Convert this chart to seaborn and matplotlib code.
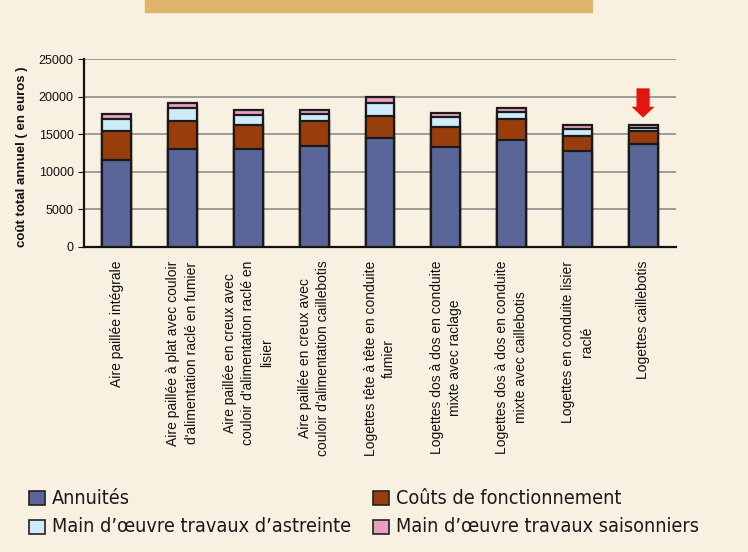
import numpy as np
import pandas as pd
import matplotlib
matplotlib.use("Agg")
import matplotlib.pyplot as plt
import seaborn as sns

categories = [
    "Aire paillée intégrale",
    "Aire paillée à plat avec couloir\nd'alimentation raclé en fumier",
    "Aire paillée en creux avec\ncouloir d'alimentation raclé en\nlisier",
    "Aire paillée en creux avec\ncouloir d'alimentation caillebotis",
    "Logettes tête à tête en conduite\nfumier",
    "Logettes dos à dos en conduite\nmixte avec raclage",
    "Logettes dos à dos en conduite\nmixte avec caillebotis",
    "Logettes en conduite lisier\nraclé",
    "Logettes caillebotis",
]
annuites = [11550, 13000, 13000, 13450, 14500, 13300, 14200, 12800, 13750]
couts_fonct = [3900, 3800, 3250, 3350, 2950, 2650, 2750, 1900, 1650]
astreinte = [1500, 1700, 1250, 900, 1750, 1350, 1050, 1000, 450]
saisonniers = [700, 700, 700, 500, 750, 550, 500, 550, 400]

series_names = ["Annuités", "Coûts de fonctionnement",
                "Main d\u2019\u0153uvre travaux d\u2019astreinte",
                "Main d\u2019\u0153uvre travaux saisonniers"]
colors = ["#5A6699", "#983E0C", "#CDEBF9", "#E9A0C0"]
bg = "#F8F0E1"

df = pd.DataFrame({"cat": categories, "a": annuites, "b": couts_fonct,
                   "c": astreinte, "d": saisonniers})
cum = df[["a", "b", "c", "d"]].cumsum(axis=1)
cum["cat"] = df["cat"]

sns.set_style("white")
plt.rcParams["font.family"] = ["Liberation Sans", "DejaVu Sans"]

fig = plt.figure(figsize=(7.48, 5.52), dpi=100, facecolor=bg)
ax = fig.add_axes([0.1123, 0.553, 0.7914, 0.340])
ax.set_facecolor(bg)

# draw cumulative layers, tallest first
for col, color in reversed(list(zip(["a", "b", "c", "d"], colors))):
    sns.barplot(data=cum, x="cat", y=col, color=color, width=0.44,
                edgecolor="#1a1a1a", linewidth=1.6, saturation=1,
                ax=ax, zorder=3)

ax.set_ylim(0, 25000)
ax.set_xlim(-0.5, len(categories) - 0.5)
ax.set_yticks(np.arange(0, 25001, 5000))
ax.yaxis.grid(True, color="#8e8e8e", linewidth=1.2, zorder=0)
ax.set_axisbelow(True)
for s in ["top", "right"]:
    ax.spines[s].set_visible(False)
ax.spines["left"].set_color("#111111")
ax.spines["bottom"].set_color("#111111")
ax.spines["left"].set_linewidth(1.6)
ax.spines["bottom"].set_linewidth(1.6)

ax.set_xticks(range(len(categories)))
ax.set_xticklabels(categories, rotation=90, ha="center", va="top",
                   multialignment="center", fontsize=10, linespacing=1.4,
                   color="#111111")
ax.set_xticks(np.arange(-0.5, len(categories), 1), minor=True)
ax.tick_params(axis="x", which="major", length=0, pad=10)
ax.tick_params(axis="x", which="minor", length=4, direction="out",
               color="#111111", width=1)
ax.tick_params(axis="y", length=4, direction="out", left=True,
               labelsize=9, color="#111111", labelcolor="#111111")
ax.set_xlabel("")
ax.set_ylabel("coût total annuel ( en euros )", fontsize=9.5,
              fontweight="bold", color="#111111")
ax.yaxis.set_label_coords(-0.095, 0.48)

# red arrow above the last bar
last = len(categories) - 1
total_last = cum["d"].iloc[last]
ax.arrow(last, total_last + 4850, 0, -3900, width=0.2, head_width=0.35,
         head_length=1450, length_includes_head=True, color="#E3150F",
         linewidth=0, zorder=5)

# top banner
fig.patches.append(plt.Rectangle((145 / 748, 1 - 12 / 552), 447 / 748, 12 / 552,
                                 transform=fig.transFigure, color="#DDB56C"))

# legend
legend_font = dict(family="DejaVu Sans", stretch="condensed", size=14.2,
                   color="#1a1a1a")
pos = [(29, 498), (373, 498), (29, 527), (373, 527)]
for (px, py), name, color in zip(pos, series_names, colors):
    fig.patches.append(plt.Rectangle((px / 748, 1 - (py + 7) / 552), 16 / 748, 14 / 552,
                                     transform=fig.transFigure, facecolor=color,
                                     edgecolor="#222222", linewidth=1.2))
    fig.text((px + 23) / 748, 1 - py / 552, name, va="center", ha="left",
             fontdict=legend_font)

fig.savefig("out.png", dpi=100, facecolor=bg)
